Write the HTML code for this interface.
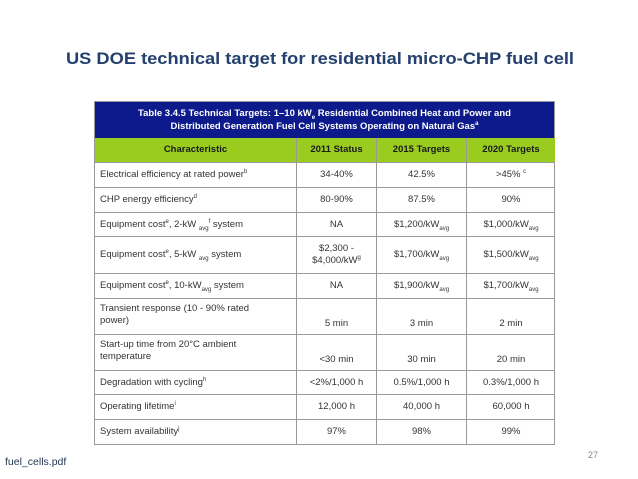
<!DOCTYPE html>
<html><head><meta charset="utf-8"><style>
body{margin:0;width:638px;height:479px;background:#fff;position:relative;overflow:hidden;font-family:"Liberation Sans",sans-serif}
.abs{position:absolute}
#tbl{position:absolute;left:94px;top:101px;width:461px;height:344px;border:1px solid #999;box-sizing:border-box;background:#fff}
.cell{position:absolute;box-sizing:border-box;font-size:9.5px;color:#333;display:flex;align-items:center;border-right:1px solid #999;border-bottom:1px solid #999;line-height:12px}
.c{justify-content:center;text-align:center}
.l{padding-left:5px}
sub,sup{font-size:6px;line-height:0}
</style></head><body>
<svg class="abs" style="left:0;top:0" width="638" height="90"><text x="66" y="64" textLength="508" lengthAdjust="spacingAndGlyphs" font-family="Liberation Sans, sans-serif" font-weight="bold" font-size="17" fill="#24406e">US DOE technical target for residential micro-CHP fuel cell</text></svg>
<div id="tbl"></div>
<div class="abs" style="left:95px;top:102px;width:459px;height:36px;background:#0d1a8c;color:#fff;font-weight:bold;font-size:9.5px;text-align:center;line-height:13px;padding-top:5px;box-sizing:border-box">Table 3.4.5 Technical Targets: 1–10 kW<sub>e</sub> Residential Combined Heat and Power and<br>Distributed Generation Fuel Cell Systems Operating on Natural Gas<sup>a</sup></div>
<div id="rows"></div>
<div class="abs" style="left:5px;top:456px;font-size:10.5px;color:#1f3350">fuel_cells.pdf</div>
<div class="abs" style="left:588px;top:450px;font-size:9px;color:#888">27</div>
<script>
const cols=[94,297,377,467,555];
const bounds=[138,163,188,213,237,274,299,335,371,395,420,445];
const rows=[
["Characteristic","2011 Status","2015 Targets","2020 Targets"],
["Electrical efficiency at rated power<sup>b</sup>","34-40%","42.5%","&gt;45% <sup>c</sup>"],
["CHP energy efficiency<sup>d</sup>","80-90%","87.5%","90%"],
["Equipment cost<sup>e</sup>, 2-kW <sub>avg</sub><sup>f</sup> system","NA","$1,200/kW<sub>avg</sub>","$1,000/kW<sub>avg</sub>"],
["Equipment cost<sup>e</sup>, 5-kW <sub>avg</sub> system","$2,300 -<br>$4,000/kW<sup>g</sup>","$1,700/kW<sub>avg</sub>","$1,500/kW<sub>avg</sub>"],
["Equipment cost<sup>e</sup>, 10-kW<sub>avg</sub> system","NA","$1,900/kW<sub>avg</sub>","$1,700/kW<sub>avg</sub>"],
["Transient response (10 - 90% rated<br>power)","5 min","3 min","2 min"],
["Start-up time from 20°C ambient<br>temperature","&lt;30 min","30 min","20 min"],
["Degradation with cycling<sup>h</sup>","&lt;2%/1,000 h","0.5%/1,000 h","0.3%/1,000 h"],
["Operating lifetime<sup>i</sup>","12,000 h","40,000 h","60,000 h"],
["System availability<sup>j</sup>","97%","98%","99%"]];
const host=document.getElementById('rows');
rows.forEach((r,i)=>{
  const y0=bounds[i],y1=bounds[i+1];
  const twoLine=(i===6||i===7);
  r.forEach((t,j)=>{
    const d=document.createElement('div');
    
    
    d.className='cell '+(j===0?'l':'c');
    d.style.left=(cols[j]+(j===0?1:0))+'px';
    d.style.top=y0+'px';
    d.style.width=(cols[j+1]-cols[j]-(j===0?1:0))+'px';
    d.style.height=(y1-y0)+'px';
    if(i===0){d.style.background='#99cc1f';d.style.fontWeight='bold';d.style.color='#1a1a1a';d.style.justifyContent='center';d.style.paddingLeft='0';}
    if(j===3)d.style.borderRight='none';
    if(twoLine){d.style.alignItems=j===0?'flex-start':'flex-end';d.style.paddingTop=j===0?'4px':'0';d.style.paddingBottom=j===0?'0':'4px';}
    d.innerHTML='<span>'+t+'</span>';
    host.appendChild(d);
  });
});
</script>
</body></html>
